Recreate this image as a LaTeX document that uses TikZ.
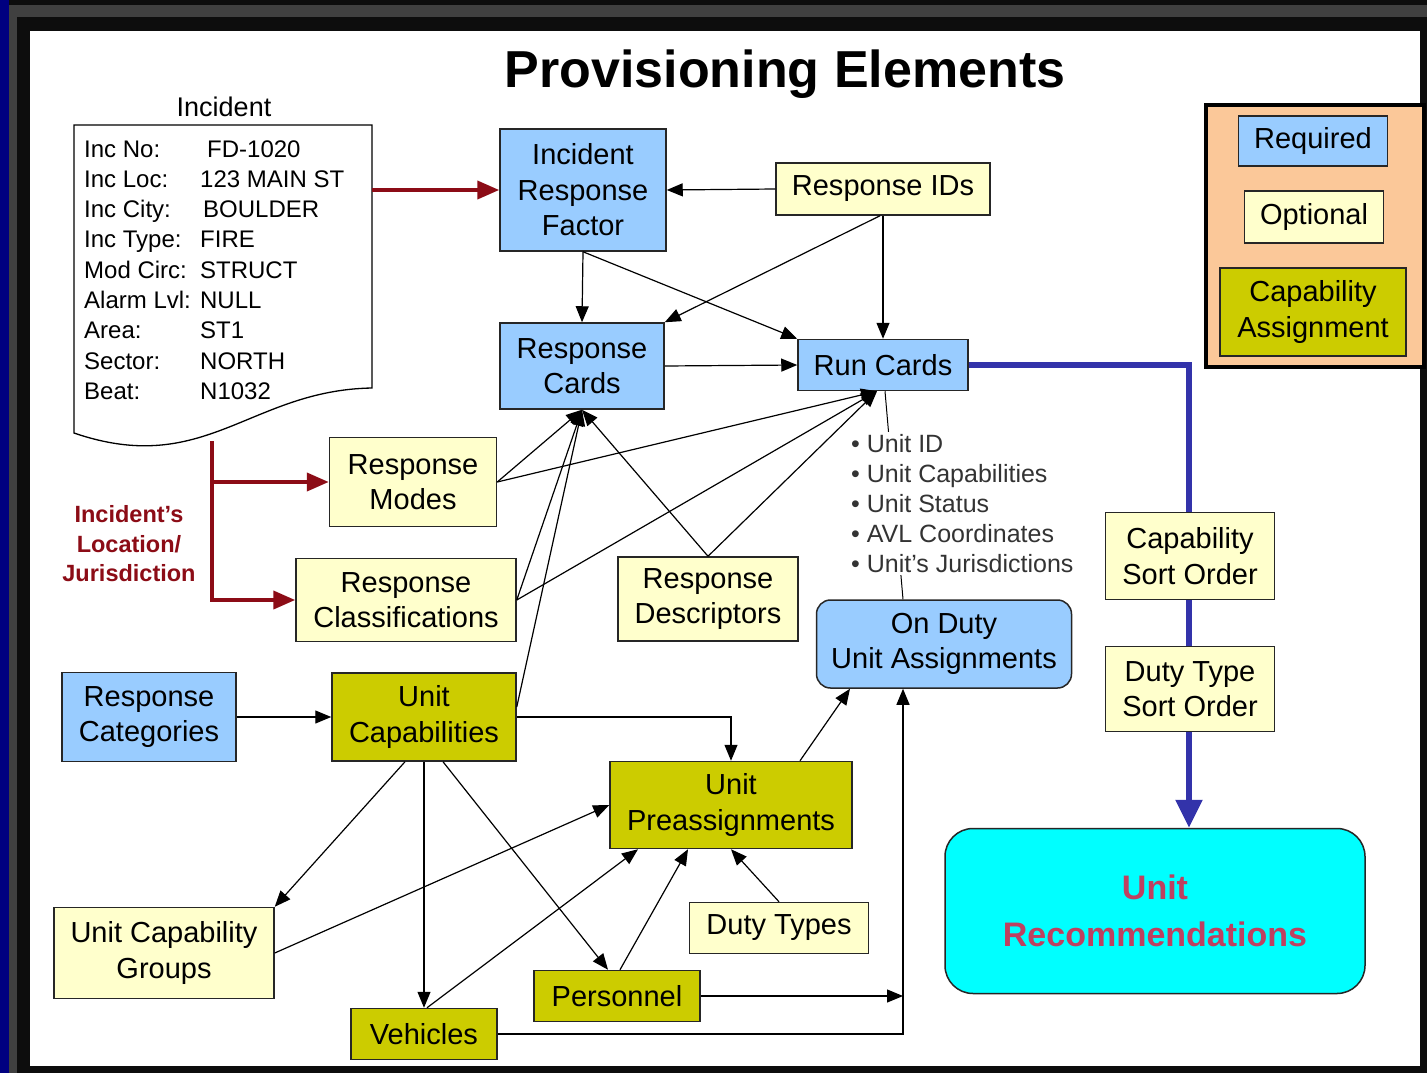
\documentclass[tikz,border=0pt]{standalone}
\usepackage{fontspec}
\setmainfont{Liberation Sans}
\usetikzlibrary{arrows.meta,calc}
\definecolor{reqblue}{RGB}{153,204,255}
\definecolor{optyellow}{RGB}{255,255,204}
\definecolor{capolive}{RGB}{204,204,0}
\definecolor{legendpeach}{RGB}{251,200,153}
\definecolor{urecyan}{RGB}{0,255,255}
\definecolor{incred}{RGB}{140,12,22}
\definecolor{flowblue}{RGB}{51,51,170}
\definecolor{urectext}{RGB}{190,64,96}
\definecolor{slidenavy}{RGB}{0,0,128}
\newcommand\boxfont{\fontsize{29}{35.5}\selectfont}
\tikzset{
  elem/.style={draw=black!85, line width=1.5pt, inner sep=0pt, align=center, font=\boxfont},
  required/.style={elem, fill=reqblue},
  optional/.style={elem, fill=optyellow},
  capassign/.style={elem, fill=capolive},
  link/.style={-{Triangle[length=16pt,width=13pt]}, line width=1.2pt},
  incflow/.style={-{Triangle[length=22pt,width=18pt]}, draw=incred, line width=4pt},
}
\begin{document}
\begin{tikzpicture}[x=1pt,y=-1pt]
  \useasboundingbox (0,0) rectangle (1427,1073);
  % slide frame
  \fill[black!95] (0,0) rectangle (1427,1073);
  \fill[black!75] (9,5) rectangle (1427,17);
  \fill[black!75] (9,5) rectangle (17,1073);
  \fill[slidenavy] (0,0) rectangle (9,1073);
  \fill[white] (30,31) rectangle (1420,1066);

  \node (title) at (785,74) {\fontsize{52}{60}\selectfont\bfseries Provisioning Elements};

  % incident document
  \node (inclabel) at (224,107) {\fontsize{27}{32}\selectfont Incident};
  \draw[line width=1.3pt, fill=white] (74,125) -- (372,125) -- (372,388)
    .. controls (250,390) and (205,478) .. (74,433) -- cycle;
  \node[anchor=base west, inner sep=0pt] (incdoc) at (84,157) {\fontsize{24}{30.3}\selectfont
    \begin{tabular}[t]{@{}p{116pt}@{}l@{}}
      Inc No: & \hspace*{7pt}FD-1020\\
      Inc Loc: & 123 MAIN ST\\
      Inc City: & \hspace*{3pt}BOULDER\\
      Inc Type: & FIRE\\
      Mod Circ: & STRUCT\\
      Alarm Lvl: & NULL\\
      Area: & ST1\\
      Sector: & NORTH\\
      Beat: & N1032
    \end{tabular}};
  \coordinate (docright) at (372,190);
  \coordinate (docfoot) at (212,441);

  % elements
  \node[required, minimum width=166, minimum height=122] (irf) at (583,190) {Incident\\Response\\Factor};
  \node[optional, minimum width=214, minimum height=52] (rids) at (883,189) {Response IDs};
  \node[required, minimum width=164, minimum height=86] (rc) at (582,366) {Response\\Cards};
  \node[required, minimum width=170, minimum height=51] (runc) at (883,365) {Run Cards};
  \node[optional, minimum width=167, minimum height=89] (modes) at (413,482) {Response\\Modes};
  \node[optional, minimum width=220, minimum height=83] (cls) at (406,600) {Response\\Classifications};
  \node[optional, minimum width=180, minimum height=84] (desc) at (708,599) {Response\\Descriptors};
  \node[required, minimum width=174, minimum height=89] (rcat) at (149,717) {Response\\Categories};
  \node[capassign, minimum width=184, minimum height=88] (uc) at (424,717) {Unit\\Capabilities};
  \node[capassign, minimum width=242, minimum height=87] (upre) at (731,805) {Unit\\Preassignments};
  \node[required, rounded corners=14pt, minimum width=255, minimum height=88] (odua) at (944,644) {On Duty\\Unit Assignments};
  \node[optional, minimum width=220, minimum height=91] (ucg) at (164,953) {Unit Capability\\Groups};
  \node[optional, minimum width=179, minimum height=51] (dt) at (779,928) {Duty Types};
  \node[capassign, minimum width=166, minimum height=51] (pers) at (617,996) {Personnel};
  \node[capassign, minimum width=146, minimum height=51] (veh) at (424,1034) {Vehicles};
  \node[elem, fill=urecyan, rounded corners=28pt, minimum width=420, minimum height=165,
        text=urectext, font=\fontsize{34}{47}\selectfont\bfseries] (urec) at (1155,911) {Unit\\Recommendations};

  % incident location feed
  \node[align=center, text=incred, font=\fontsize{23.5}{29.5}\selectfont\bfseries] (incloc) at (129,544)
    {Incident's\\Location/\\Jurisdiction};
  \draw[incflow] (docright) -- (irf.west);
  \draw[incflow] (docfoot) |- (cls.west);
  \draw[incflow] (docfoot |- modes.west) -- (modes.west);

  % connectors
  \draw[link] (rids.west) -- (irf.east);
  \draw[link] (irf.south) -- (rc.north);
  \draw[link] (irf.south) -- (runc.north west);
  \draw[link] (rids.south) -- (runc.north);
  \draw[link] ([xshift=-3pt]rids.south) -- (rc.north east);
  \draw[link] (rc.east) -- (runc.west);
  \foreach \src in {modes.east, cls.east, desc.north} {
    \draw[link] (\src) -- (rc.south);
    \draw[link] (\src) -- ([xshift=-6pt]runc.south);
  }
  \draw[link] ([yshift=10pt]uc.east) -- (rc.south);
  \draw[link] (rcat.east) -- (uc.west);
  \draw[link] (uc.east) -| (upre.north);
  \draw[link] ([xshift=-19pt]uc.south) -- (ucg.north east);
  \draw[link] (uc.south) -- (veh.north);
  \draw[link] ([xshift=19pt]uc.south) -- ([xshift=-9pt]pers.north);
  \draw[link] (ucg.east) -- (upre.west);
  \draw[link] ([xshift=3pt]veh.north) -- ([xshift=-93pt]upre.south);
  \draw[link] ([xshift=3pt]pers.north) -- ([xshift=-43pt]upre.south);
  \draw[link] (dt.north) -- (upre.south);
  \draw[link] ([xshift=69pt]upre.north) -- ([xshift=-94pt]odua.south);
  \coordinate (dutyfeed) at ([xshift=-41pt]odua.south);
  \draw[link] (veh.east) -| (dutyfeed);
  \draw[link] (pers.east) -- (pers.east -| dutyfeed);
  \draw[line width=1pt] ([xshift=-41pt]odua.north) -- ([xshift=2pt]runc.south);

  % unit list (covers the line behind it)
  \node[fill=white, anchor=north west, inner sep=2pt, align=left, text=black!80,
        font=\fontsize{25}{30}\selectfont] (unitinfo) at (849,432)
    {• Unit ID\\• Unit Capabilities\\• Unit Status\\• AVL Coordinates\\• Unit's Jurisdictions};

  % sort flow
  \draw[flowblue, line width=5.5pt, -{Triangle[length=28pt,width=26pt]}] (runc.east) -| ([xshift=34pt]urec.north);
  \node[optional, minimum width=169, minimum height=87] (cso) at (1190,556) {Capability\\Sort Order};
  \node[optional, minimum width=169, minimum height=85] (dso) at (1190,689) {Duty Type\\Sort Order};

  % legend
  \node[draw, line width=4pt, fill=legendpeach, minimum width=218, minimum height=262, inner sep=0pt] (legend) at (1315,236) {};
  \node[required, minimum width=149, minimum height=50] (legreq) at (1313,141) {Required};
  \node[optional, minimum width=139, minimum height=52] (legopt) at (1314,217) {Optional};
  \node[capassign, minimum width=186, minimum height=88] (legcap) at (1313,312) {Capability\\Assignment};
\end{tikzpicture}
\end{document}
